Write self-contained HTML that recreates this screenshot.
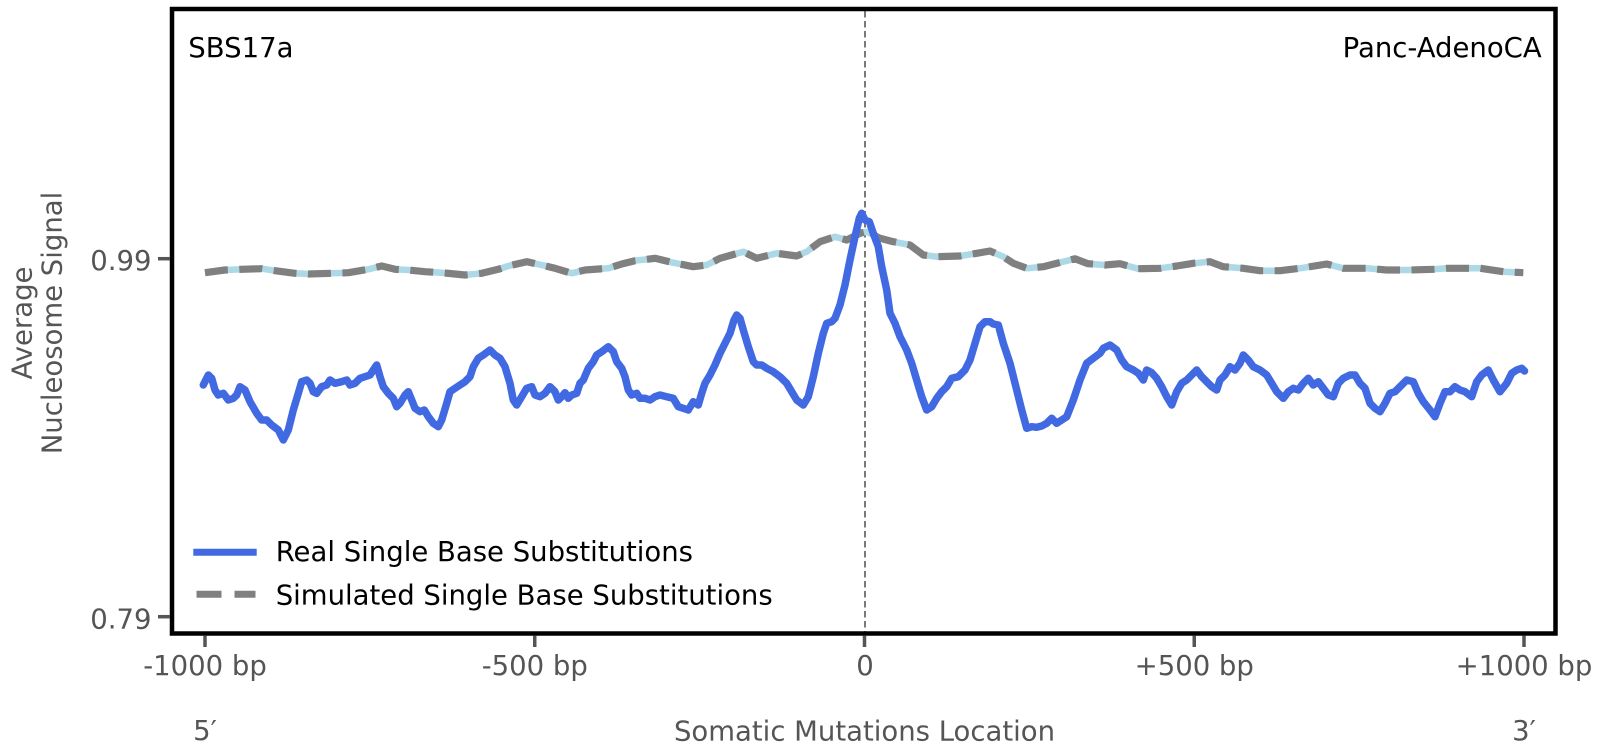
<!DOCTYPE html>
<html>
<head>
<meta charset="utf-8">
<style>
  html, body { margin: 0; padding: 0; background: #ffffff; }
  svg { display: block; }
  text { font-family: "DejaVu Sans", "Liberation Sans", sans-serif; font-size: 27.5px; }
  .tick { fill: #555555; }
  .lab { fill: #555555; }
</style>
</head>
<body>
<svg width="1603" height="756" viewBox="0 0 1603 756" xmlns="http://www.w3.org/2000/svg">
  <rect x="0" y="0" width="1603" height="756" fill="#ffffff"/>

  <!-- vertical dashed center line -->
  <line x1="865" y1="11" x2="865" y2="632" stroke="#7a7a7a" stroke-width="2" stroke-dasharray="6.5 3.5"/>

  <!-- simulated: light blue underlay + gray dashed -->
  <polyline fill="none" stroke="#ADD8E6" stroke-width="6.5" stroke-linejoin="round"
    points="205,272.7 225,270 241.7,269.3 261.7,268.7 275,270.7 295,273.3 308.3,274 331.7,273.3 348.3,272.7 368.3,269.3 381.7,266 395,269.3 408.3,270 425,271.7 441.7,272.7 465,275 481.7,273.3 498.3,269.3 508.3,266 526.7,261.7 541.7,265 555,268.3 571.7,273.3 585,270 608.3,268.3 621.7,264 635,260.7 655,258.3 673.3,262.7 693.3,266.7 706.7,265 720,258.3 743.3,251.7 756.7,258.3 776.7,253.3 796.7,256 806.7,251.7 820,241.7 835,236.7 846.7,240 860,233.3 866.7,231.7 880,238.3 893.3,241.7 910,245 923.3,255 936.7,256.7 960,256 976.7,253.3 990,251 1003.3,256.7 1013.3,263.3 1026.7,268.3 1043.3,266.7 1060,262.5 1075,258.8 1088,263.7 1105,265 1120,263.7 1138,268.7 1160,268.3 1176.7,266 1193.3,263.3 1210,261.7 1223.3,266.7 1243.3,268.3 1260,270.7 1280,270.7 1300,268.3 1326.7,264 1343.3,268.3 1366.7,268.3 1386.7,270 1410,270 1433.3,269.3 1446.7,268.3 1480,268.3 1503.3,271.7 1523.3,272.7"/>
  <polyline fill="none" stroke="#808080" stroke-width="7.2" stroke-linejoin="round" stroke-dasharray="23 11.5"
    points="205,272.7 225,270 241.7,269.3 261.7,268.7 275,270.7 295,273.3 308.3,274 331.7,273.3 348.3,272.7 368.3,269.3 381.7,266 395,269.3 408.3,270 425,271.7 441.7,272.7 465,275 481.7,273.3 498.3,269.3 508.3,266 526.7,261.7 541.7,265 555,268.3 571.7,273.3 585,270 608.3,268.3 621.7,264 635,260.7 655,258.3 673.3,262.7 693.3,266.7 706.7,265 720,258.3 743.3,251.7 756.7,258.3 776.7,253.3 796.7,256 806.7,251.7 820,241.7 835,236.7 846.7,240 860,233.3 866.7,231.7 880,238.3 893.3,241.7 910,245 923.3,255 936.7,256.7 960,256 976.7,253.3 990,251 1003.3,256.7 1013.3,263.3 1026.7,268.3 1043.3,266.7 1060,262.5 1075,258.8 1088,263.7 1105,265 1120,263.7 1138,268.7 1160,268.3 1176.7,266 1193.3,263.3 1210,261.7 1223.3,266.7 1243.3,268.3 1260,270.7 1280,270.7 1300,268.3 1326.7,264 1343.3,268.3 1366.7,268.3 1386.7,270 1410,270 1433.3,269.3 1446.7,268.3 1480,268.3 1503.3,271.7 1523.3,272.7"/>

  <!-- real: royal blue -->
  <polyline fill="none" stroke="#4169E1" stroke-width="7.5" stroke-linejoin="round" stroke-linecap="round"
    points="203.3,385 208.3,375 211.7,378.3 215,390 218.3,395 223.3,393.3 228.3,400 233.3,398.3 236.7,395 240,386.7 245,390 250,401.7 256.7,413.3 261.7,420 266.7,420 271.7,425 278.3,430 283.3,440 288.3,430 293.3,410 298.3,393.3 301.7,381.7 306.7,380 310,383.3 313.3,391.7 316.7,393.3 321.7,386.7 326.7,385 330,380 335,383.3 341.7,381.7 346.7,380 350,385 355,383.3 360,378.3 365,376.7 370,375 373.3,370 376.7,365 380,376.7 383.3,386.7 388.3,393.3 393.3,398.3 396.7,406.7 400,403.3 405,395 408.3,391.7 411.7,400 415,408.3 420,411.7 424.3,410 428.3,416.7 433.3,423.3 438.3,426.7 441.7,420 446.7,403.3 450,391.7 455,388.3 460,385 465,381.7 470,376.7 473.3,366.7 478.3,358.3 483.3,355 490,350 495,355 500,358.3 505,366.7 510,383.3 513.3,400 516.7,405 521.7,396.7 526.7,388.3 531.7,386.7 535,395 540,396.7 545,393.3 550,386.7 555,391.7 558.3,400 561.7,396.7 565,392.7 568.3,398.3 571.7,395 576.7,393.3 580,383.3 583.3,380 588.3,368.3 593.3,361.7 596.7,355 601.7,351.7 608.3,346.7 613.3,351.7 616.7,361.7 621.7,368.3 625,376.7 628.3,390 631.7,395 636.7,393.3 640,398.3 645,398.3 650,400 655,396.7 660,395 666.7,396.7 673.3,398.3 678.3,406.7 683.3,408.3 688.3,410 693.3,401.7 698.3,405 701.7,393.3 705,383.3 710,375 715,365 720,353.3 725,343.3 730,333.3 734,320 736.7,315 740,318.3 743.3,330 748.3,346.7 753.3,361.7 756.7,365 761.7,365 766.7,368.3 773.3,371.7 780,376.7 786.7,383.3 791.7,391.7 796.7,400 803.3,405 808.3,396.7 813.3,376.7 818.3,353.3 823.3,333.3 826.7,323.3 831.7,321.7 835,318.3 840,305 845,285 850,260 855,236.7 859.3,218.3 861.7,213.3 865,220 869.3,221.7 873.3,233.3 878.3,246.7 881.7,266.7 886.7,290 890,313.3 895,323.3 900,336.7 906.7,350 911.7,363.3 916.7,380 921.7,396.7 926.7,410 931.7,406.7 936.7,398.3 941.7,391.7 946.7,386.7 951.7,378.3 958.3,376.7 965,370 970,360 975,343.3 980,326.7 985,321.7 990,321.7 993.3,324 998.3,325 1003.3,343.3 1010,363.3 1016.7,390 1021.7,410 1026.7,428.3 1031.7,426.7 1036.7,427.3 1041.7,426 1046.7,423.3 1051.7,418.3 1056.7,423.3 1061.7,420 1066.7,416.7 1073.3,400 1080,380 1086.7,363.3 1093.3,358.3 1100,353.3 1103.3,348.3 1110,345 1116.7,350 1121.7,360 1126.7,366.7 1133.3,370 1138.3,373.3 1143.3,380 1146.7,370 1151.7,372.7 1156.7,378.3 1161.7,386.7 1166.7,396.7 1171.7,405 1176.7,391.7 1181.7,383.3 1186.7,380 1191.7,375 1196.7,370 1201.7,376.7 1206.7,381.7 1211.7,386.7 1216.7,390 1220,380 1225,375 1230,366.7 1235,370 1240,363.3 1243.3,355 1248.3,360 1253.3,366.7 1260,370 1266.7,375 1271.7,383.3 1276.7,391.7 1283.3,398.3 1288.3,391.7 1293.3,388.3 1298.3,390 1303.3,383.3 1308.3,378.3 1313.3,385 1318.3,381.7 1323.3,388.3 1328.3,395 1333.3,396.7 1338.3,383.3 1343.3,378.3 1350,375 1355,375 1360,383.3 1365,388.3 1370,403.3 1375,408.3 1380,411.7 1385,403.3 1390,393.3 1395,391.7 1400,386.7 1406.7,380 1413.3,381.7 1418.3,393.3 1423.3,401.7 1430,410 1435,416.7 1440,403.3 1445,391.7 1450,391.7 1455,386.7 1460,390 1465,391.7 1471.7,396.7 1476.7,381.7 1481.7,375 1488.3,370 1493.3,380 1500,391.7 1506.7,383.3 1511.7,373.3 1516.7,370 1521.7,368.3 1524.5,371"/>

  <!-- frame -->
  <rect x="172" y="9" width="1383.5" height="624.5" fill="none" stroke="#000000" stroke-width="4.5"/>

  <!-- y ticks -->
  <line x1="158" y1="258.7" x2="170" y2="258.7" stroke="#555555" stroke-width="3.5"/>
  <line x1="158" y1="616.7" x2="170" y2="616.7" stroke="#555555" stroke-width="3.5"/>
  <text class="tick" x="151.5" y="270" text-anchor="end">0.99</text>
  <text class="tick" x="151.5" y="628.3" text-anchor="end">0.79</text>

  <!-- x ticks -->
  <g stroke="#555555" stroke-width="3.5">
    <line x1="205" y1="635.5" x2="205" y2="647"/>
    <line x1="534.75" y1="635.5" x2="534.75" y2="647"/>
    <line x1="864.5" y1="635.5" x2="864.5" y2="647"/>
    <line x1="1194.25" y1="635.5" x2="1194.25" y2="647"/>
    <line x1="1524" y1="635.5" x2="1524" y2="647"/>
  </g>
  <text class="tick" x="205" y="675" text-anchor="middle">-1000 bp</text>
  <text class="tick" x="534.75" y="675" text-anchor="middle">-500 bp</text>
  <text class="tick" x="865" y="675" text-anchor="middle">0</text>
  <text class="tick" x="1194.25" y="675" text-anchor="middle">+500 bp</text>
  <text class="tick" x="1524" y="675" text-anchor="middle">+1000 bp</text>

  <!-- x axis label + 5'/3' -->
  <text class="lab" x="205" y="740" text-anchor="middle">5′</text>
  <text class="lab" x="864.5" y="740.5" text-anchor="middle">Somatic Mutations Location</text>
  <text class="lab" x="1524" y="740" text-anchor="middle">3′</text>

  <!-- y axis label -->
  <text class="lab" transform="translate(31.5,323) rotate(-90)" text-anchor="middle">Average</text>
  <text class="lab" transform="translate(61.5,323) rotate(-90)" text-anchor="middle">Nucleosome Signal</text>

  <!-- annotations -->
  <text x="188.3" y="57" fill="#000000">SBS17a</text>
  <text x="1541.7" y="57" fill="#000000" text-anchor="end">Panc-AdenoCA</text>

  <!-- legend -->
  <line x1="193.3" y1="552.3" x2="256.7" y2="552.3" stroke="#4169E1" stroke-width="7"/>
  <line x1="196.5" y1="594.3" x2="221.5" y2="594.3" stroke="#808080" stroke-width="7"/>
  <line x1="234.5" y1="594.3" x2="255.5" y2="594.3" stroke="#808080" stroke-width="7"/>
  <text x="275.7" y="561" fill="#000000">Real Single Base Substitutions</text>
  <text x="275.7" y="604.3" fill="#000000">Simulated Single Base Substitutions</text>
</svg>
</body>
</html>
